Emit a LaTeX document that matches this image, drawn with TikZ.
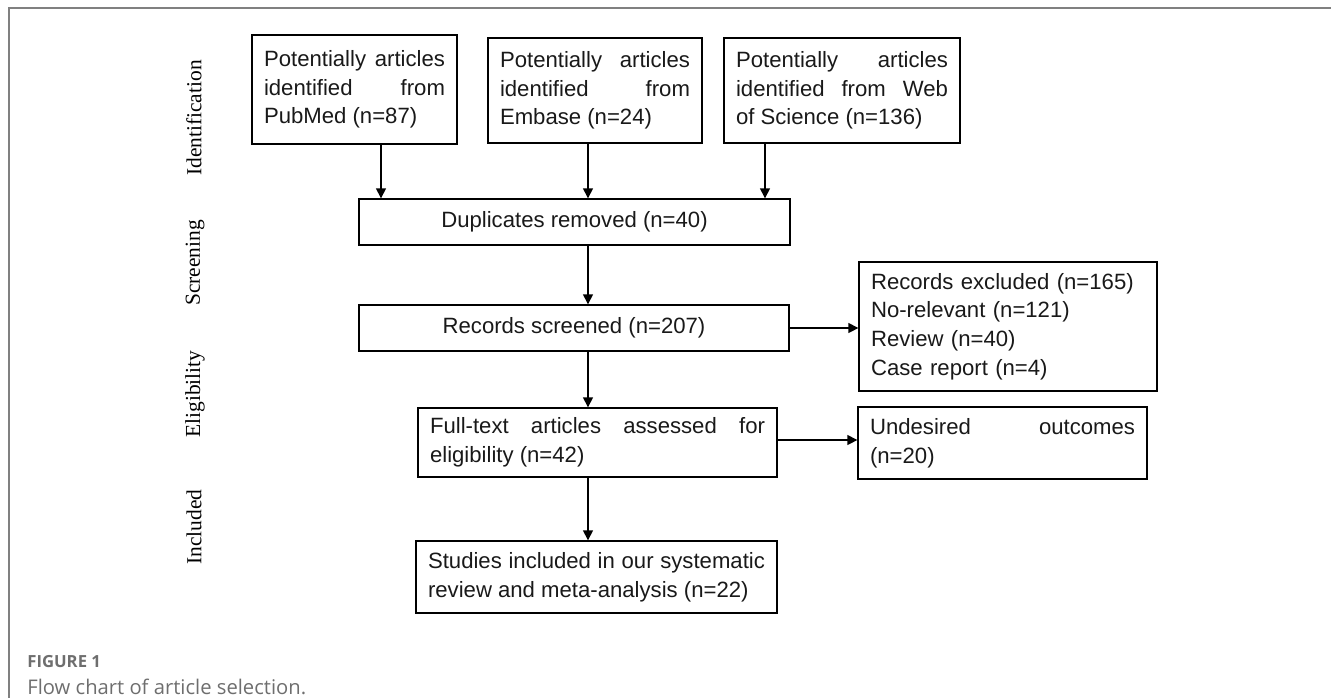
\documentclass[tikz,border=0pt]{standalone}
\usepackage{fontspec}
\setmainfont{Liberation Sans}
\newfontfamily\sidefont{Liberation Serif}
\newfontfamily\capfont{Open Sans}
\usetikzlibrary{arrows.meta}
\definecolor{framegray}{HTML}{808080}
\definecolor{capgray}{HTML}{6E6E6E}
\hyphenpenalty=10000
\tikzset{
	box/.style={draw,line width=0.8pt,inner xsep=0.24cm,inner ysep=0pt,font=\fontsize{12.6}{16.3}\selectfont,text=black!90},
	jbox/.style={box,align=justify},
	side/.style={rotate=90,font=\sidefont\fontsize{12.2}{14}\selectfont},
	arr/.style={-{Triangle[length=0.2cm,width=0.2cm]},line width=0.8pt},
	caption/.style={anchor=base west,inner sep=0pt,text=capgray}
}

\begin{document}
\begin{tikzpicture}[x=0.02cm,y=-0.02cm]
	\useasboundingbox (0,0) rectangle (1331,698);
	\draw[framegray,line width=0.6pt] (1331,8) -- (9,8) -- (9,698);
	\node[side] (id) at (194,118) {Identification};
	\node[side] (sc) at (195,263) {Screening};
	\node[side] (el) at (195,394) {Eligibility};
	\node[side] (in) at (194,527) {Included};
	\node[jbox,text width=3.62cm,minimum height=2.18cm] (pm) at (354.5,89.5) {Potentially articles\linebreak identified from\linebreak PubMed (n=87)};
	\node[jbox,text width=3.8cm,minimum height=2.1cm] (em) at (595,90.5) {Potentially articles\linebreak identified from\linebreak Embase (n=24)};
	\node[jbox,text width=4.24cm,minimum height=2.1cm] (ws) at (842,90.5) {Potentially articles\linebreak identified from Web\linebreak of Science (n=136)};
	\node[box,minimum width=8.62cm,minimum height=0.92cm] (dup) at (574.5,222) {Duplicates removed (n=40)};
	\node[box,minimum width=8.6cm,minimum height=0.92cm] (rs) at (574,328) {Records screened (n=207)};
	\node[box,text width=5.48cm,align=left,minimum height=2.58cm] (ex) at (1008,326.5) {Records excluded (n=165)\\No-relevant (n=121)\\Review (n=40)\\Case report (n=4)};
	\node[jbox,text width=6.7cm,minimum height=1.38cm] (ft) at (597.5,442.5) {Full-text articles assessed for\linebreak eligibility (n=42)};
	\node[jbox,text width=5.3cm,minimum height=1.44cm] (ud) at (1002.5,443) {Undesired outcomes\linebreak (n=20)};
	\node[jbox,text width=6.74cm,minimum height=1.44cm] (st) at (596.5,577) {Studies included in our systematic\linebreak review and meta-analysis (n=22)};
	\draw[arr] (pm.south -| 381,0) -- (dup.north -| 381,0);
	\draw[arr] (em.south -| 588,0) -- (dup.north -| 588,0);
	\draw[arr] (ws.south -| 765,0) -- (dup.north -| 765,0);
	\draw[arr] (dup.south -| 588,0) -- (rs.north -| 588,0);
	\draw[arr] (rs.south -| 588,0) -- (ft.north -| 588,0);
	\draw[arr] (ft.south -| 588,0) -- (st.north -| 588,0);
	\draw[arr] (rs.east) -- (ex.west |- rs.east);
	\draw[arr] (ft.east |- 0,440) -- (ud.west |- 0,440);
	\node[caption,font=\capfont\bfseries\fontsize{9.5}{11}\selectfont] (fig) at (27,667) {FIGURE 1};
	\node[caption,font=\capfont\fontsize{11.5}{13}\selectfont] (cap) at (27,694) {Flow chart of article selection.};
\end{tikzpicture}
\end{document}
